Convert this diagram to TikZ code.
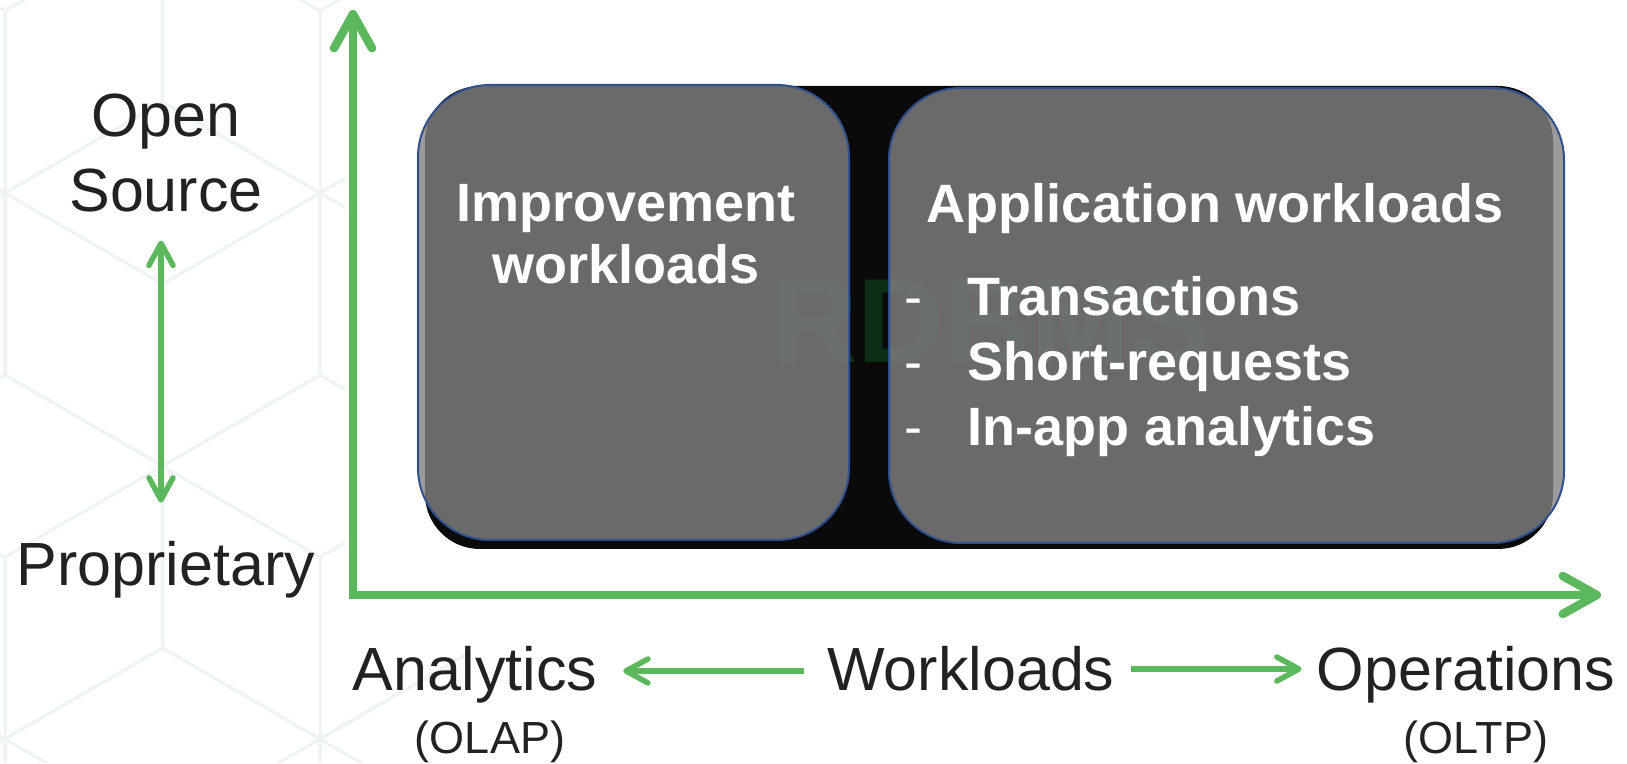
\documentclass[tikz,border=0pt]{standalone}
\usepackage{fontspec}
\setmainfont{Liberation Sans}
\usetikzlibrary{arrows.meta}
\usetikzlibrary{positioning}

\definecolor{axisgreen}{RGB}{92,184,92}
\definecolor{boxgray}{RGB}{130,130,130}
\definecolor{boxblue}{RGB}{47,82,143}
\definecolor{hexgray}{RGB}{238,244,239}
\definecolor{labeltext}{RGB}{34,34,34}
\definecolor{markgreen}{RGB}{11,46,20}

\begin{document}
\begin{tikzpicture}[x=1pt,y=1pt,
  axis/.style={draw=axisgreen,line width=8.5pt,line join=miter,
    >={Straight Barb[length=34pt,width=38pt,round]},<->},
  sarrow/.style={draw=axisgreen,line width=5.5pt,
    >={Straight Barb[length=22pt,width=24pt,round]},->},
  hexline/.style={draw=hexgray,line width=3pt},
  backbox/.style={rectangle,fill=black!96,rounded corners=55pt,inner sep=0pt},
  workbox/.style={rectangle,fill=boxgray,fill opacity=0.8,draw=boxblue,line width=2pt,
    rounded corners=72pt,inner sep=0pt},
  label/.style={text=labeltext,inner sep=0pt,font=\fontsize{61}{75}\selectfont},
  sublabel/.style={text=labeltext,inner sep=0pt,font=\fontsize{45}{54}\selectfont},
  title/.style={text=white,inner sep=0pt,font=\fontsize{54}{62}\selectfont\bfseries},
  item/.style={text=white,inner sep=0pt,font=\fontsize{54}{62}\selectfont}]

  \useasboundingbox[fill=white] (0,0) rectangle (1627,763);

  % background cubes
  \begin{scope}
    \clip (0,0) -- (0,763) -- (345,763) -- (345,160) -- (470,160) -- (470,0) -- cycle;
    \foreach \j in {-1,...,3}
      \foreach \i in {-2,...,2} {
        \pgfmathsetmacro\cx{320+315*\i+mod(\j,2)*157.6}
        \pgfmathsetmacro\cy{206+273*\j}
        \draw[hexline] (\cx,\cy) +(90:182) -- +(30:182) -- +(-30:182) -- +(-90:182)
          -- +(-150:182) -- +(150:182) -- cycle;
        \draw[hexline] (\cx,\cy) -- +(-90:182) (\cx,\cy) -- +(150:182) (\cx,\cy) -- +(30:182);
      }
  \end{scope}

  % axes
  \coordinate (ytip) at (353,753);
  \coordinate (xtip) at (1601,168);
  \draw[axis] (ytip) |- (xtip);

  % boxes
  \node[backbox,minimum width=1128pt,minimum height=463pt] (rdbms) at (989,445.5) {};
  \node[text=markgreen,inner sep=0pt,anchor=base,font=\fontsize{120}{120}\selectfont\bfseries]
    (mark) at (991,400) {RDBMS};
  \node[workbox,minimum width=431pt,minimum height=455pt] (impbox) at (633.5,450.5) {};
  \node[workbox,minimum width=675pt,minimum height=455pt] (appbox) at (1226.5,447.5) {};

  \node[title,align=center,anchor=north] (imp) at (626,579) {Improvement\\workloads};
  \node[title,anchor=base] (app) at (1215,540) {Application workloads};
  \foreach \t [count=\k] in {Transactions,Short-requests,In-app analytics} {
    \node[item,anchor=base] (dash\k) at (913,512-65*\k) {-};
    \node[title,anchor=base west] (it\k) at (967,512-65*\k) {\t};
  }

  % left scale
  \node[label,align=center,anchor=north] (os) at (166,669) {Open\\Source};
  \node[label,anchor=base] (prop) at (166,177) {Proprietary};
  \draw[sarrow,<->] ([xshift=-5pt,yshift=-28pt]os.south) -- ([xshift=-5pt,yshift=39pt]prop.north);

  % bottom scale
  \node[label,anchor=base] (ana) at (475,73) {Analytics};
  \node[sublabel,anchor=base] (olap) at (490,10) {(OLAP)};
  \node[label,anchor=base] (wl) at (971,73) {Workloads};
  \node[label,anchor=base] (ops) at (1466,73) {Operations};
  \node[sublabel,anchor=base] (oltp) at (1476,10) {(OLTP)};
  \draw[sarrow] ([xshift=-23pt,yshift=19pt]wl.base west) -- ([xshift=26pt,yshift=19pt]ana.base east);
  \draw[sarrow] ([xshift=16pt,yshift=21pt]wl.base east) -- ([xshift=-15pt,yshift=21pt]ops.base west);
\end{tikzpicture}
\end{document}
